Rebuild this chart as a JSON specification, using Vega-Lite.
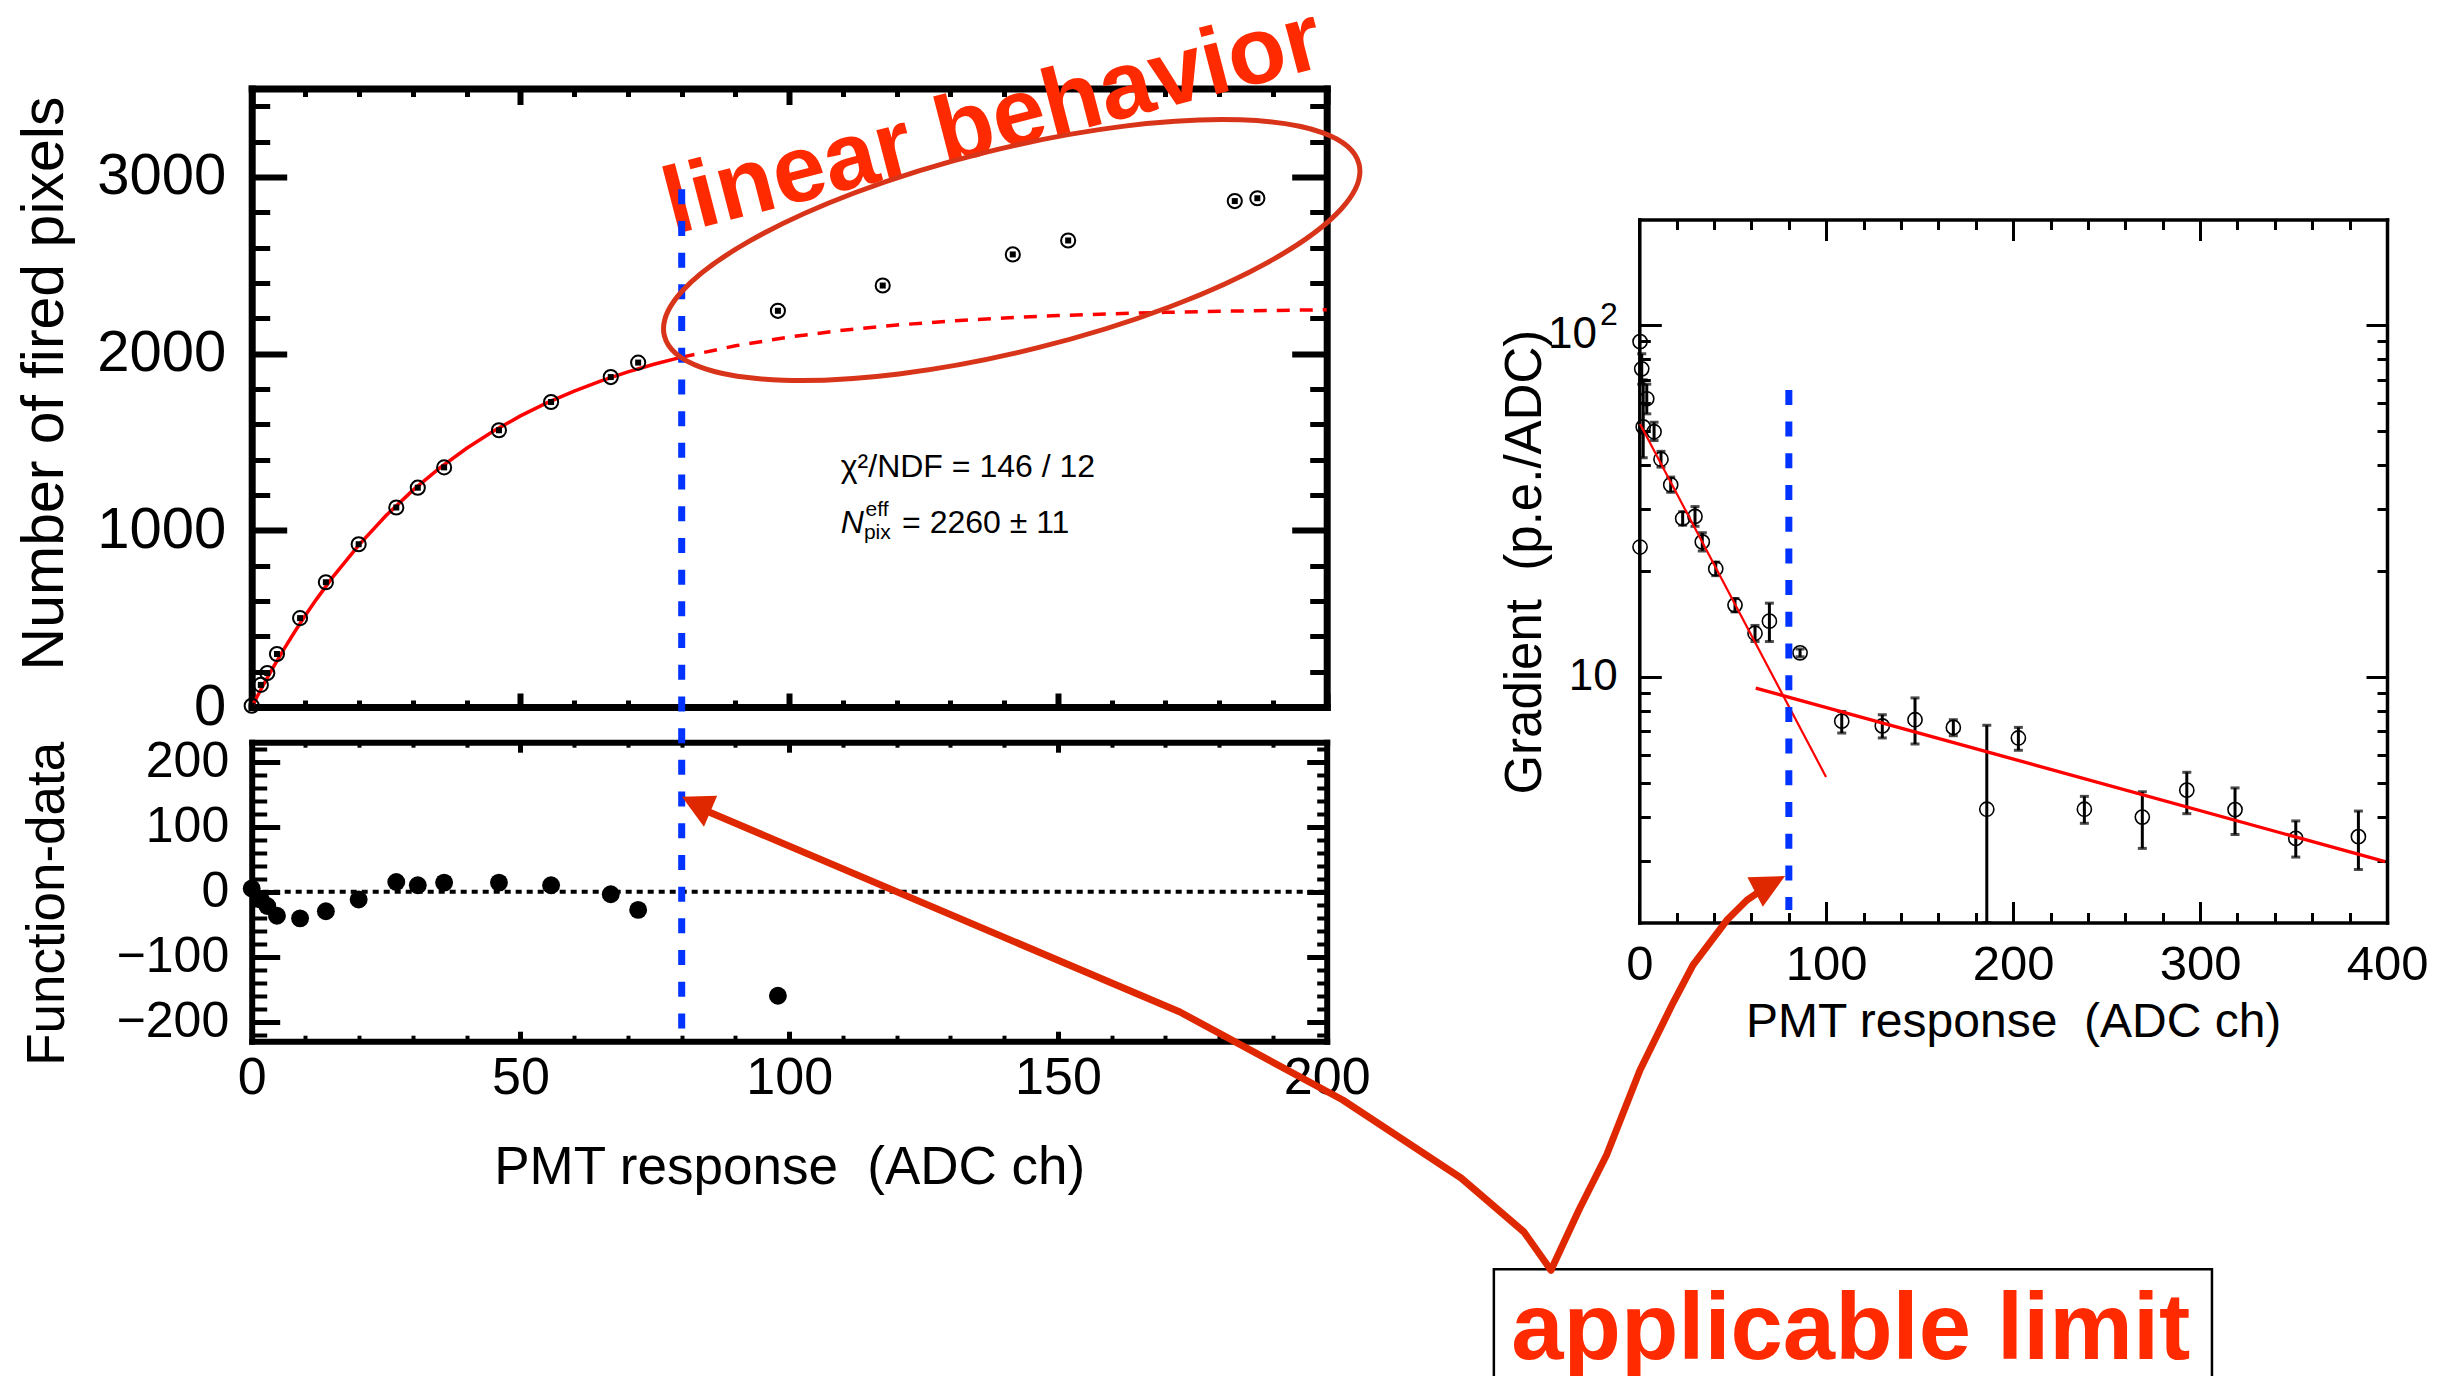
{
"$schema":"https://vega.github.io/schema/vega-lite/v6.json",
"width":2463,"height":1376,"autosize":"none","padding":0,"background":"white",
"config":{"view":{"stroke":null},"font":"Liberation Sans","axis":{"grid":false,"labelColor":"black","titleColor":"black","tickColor":"black","domainColor":"black","titleFontWeight":"normal","labelFlush":false,"labelOverlap":false,"labelFont":"Liberation Sans","titleFont":"Liberation Sans"}},
"datasets":{
"fired":[{"x":0,"y":7},{"x":1.7,"y":125},{"x":2.9,"y":192},{"x":4.7,"y":300},{"x":9.0,"y":503},{"x":13.8,"y":706},{"x":19.9,"y":921},{"x":26.9,"y":1129},{"x":30.9,"y":1241},{"x":35.8,"y":1356},{"x":46.0,"y":1566},{"x":55.7,"y":1726},{"x":66.8,"y":1867},{"x":71.9,"y":1949},{"x":97.9,"y":2242},{"x":117.4,"y":2385},{"x":141.6,"y":2561},{"x":151.9,"y":2640},{"x":182.9,"y":2863},{"x":187.1,"y":2879}],
"fit_in":[{"x":0,"y":0},{"x":1,"y":58.2},{"x":2,"y":114.9},{"x":3,"y":170.2},{"x":4,"y":224.0},{"x":6,"y":327.6},{"x":8,"y":425.9},{"x":10,"y":519.1},{"x":12,"y":607.7},{"x":15,"y":732.1},{"x":20,"y":919.1},{"x":25,"y":1083.2},{"x":30,"y":1227.1},{"x":35,"y":1353.5},{"x":40,"y":1464.4},{"x":45,"y":1561.7},{"x":50,"y":1647.2},{"x":55,"y":1722.1},{"x":60,"y":1787.9},{"x":65,"y":1845.7},{"x":70,"y":1896.4},{"x":75,"y":1940.9},{"x":80,"y":1979.9}],
"fit_out":[{"x":80,"y":1979.9},{"x":90,"y":2044.2},{"x":100,"y":2093.8},{"x":110,"y":2132.0},{"x":120,"y":2161.4},{"x":130,"y":2184.0},{"x":140,"y":2201.5},{"x":150,"y":2214.9},{"x":160,"y":2225.3},{"x":170,"y":2233.3},{"x":180,"y":2239.4},{"x":190,"y":2244.1},{"x":200,"y":2247.8}],
"resid":[{"x":0,"y":5},{"x":1.7,"y":-12},{"x":2.9,"y":-22},{"x":4.7,"y":-37},{"x":9.0,"y":-41},{"x":13.8,"y":-30},{"x":19.9,"y":-12},{"x":26.9,"y":15},{"x":30.9,"y":10},{"x":35.8,"y":14},{"x":46.0,"y":14},{"x":55.7,"y":10},{"x":66.8,"y":-4},{"x":71.9,"y":-28},{"x":97.9,"y":-160}],
"grad":[{"x":0.4,"y":89.9},{"x":1.3,"y":75.2,"lo":68,"hi":83},{"x":4.0,"y":61.8,"lo":56,"hi":68},{"x":2.1,"y":51.4,"lo":42,"hi":70},{"x":7.9,"y":49.8,"lo":47,"hi":53},{"x":11.6,"y":41.6,"lo":39.5,"hi":43.8},{"x":16.8,"y":35.2,"lo":33.5,"hi":37},{"x":23.2,"y":28.2,"lo":27,"hi":29.5},{"x":29.8,"y":28.6,"lo":26.8,"hi":30.5},{"x":33.7,"y":24.2,"lo":22.8,"hi":25.7},{"x":40.9,"y":20.3,"lo":19.4,"hi":21.2},{"x":51.2,"y":16.0,"lo":15.3,"hi":16.7},{"x":61.9,"y":13.3,"lo":12.6,"hi":14.0},{"x":69.6,"y":14.4,"lo":12.6,"hi":16.2},{"x":86.0,"y":11.7,"lo":11.4,"hi":12.0},{"x":0.4,"y":23.4},{"x":108.3,"y":7.48,"lo":6.92,"hi":7.97},{"x":130.0,"y":7.25,"lo":6.70,"hi":7.80},{"x":147.5,"y":7.55,"lo":6.44,"hi":8.71},{"x":168.0,"y":7.18,"lo":6.80,"hi":7.55},{"x":185.9,"y":4.20,"lo":2,"hi":7.28},{"x":202.8,"y":6.70,"lo":6.18,"hi":7.18},{"x":238.1,"y":4.20,"lo":3.83,"hi":4.57},{"x":269.1,"y":3.99,"lo":3.25,"hi":4.71},{"x":292.9,"y":4.76,"lo":4.08,"hi":5.35},{"x":318.7,"y":4.19,"lo":3.56,"hi":4.83},{"x":351.2,"y":3.47,"lo":3.07,"hi":3.89},{"x":384.7,"y":3.51,"lo":2.83,"hi":4.15}]
},
"resolve":{"scale":{"x":"independent","y":"independent"},"axis":{"x":"independent","y":"independent"}},
"layer":[
{"data":{"values":[{"x":100,"y":100}]},"mark":{"type":"point","opacity":0},"encoding":{
"x":{"field":"x","type":"quantitative","scale":{"domain":[0,200],"range":[251.7,1326.7],"nice":false,"zero":false},"axis":{"orient":"bottom","offset":-669,"values":[0,50,100,150,200],"labels":false,"ticks":true,"tickSize":-14,"tickWidth":6,"domain":true,"domainWidth":7,"domainCap":"square","title":null}},
"y":{"field":"y","type":"quantitative","scale":{"domain":[0,3500],"range":[707,88.5],"nice":false,"zero":false},"axis":{"orient":"left","offset":-251.7,"values":[0,1000,2000,3000],"labels":false,"ticks":true,"tickSize":-35,"tickWidth":6,"domain":true,"domainWidth":7,"domainCap":"square","title":null}}}},
{"data":{"values":[{"x":100,"y":100}]},"mark":{"type":"point","opacity":0},"encoding":{
"x":{"field":"x","type":"quantitative","scale":{"domain":[0,200],"range":[251.7,1326.7],"nice":false,"zero":false},"axis":{"orient":"bottom","offset":-669,"values":[10,20,30,40,60,70,80,90,110,120,130,140,160,170,180,190],"labels":false,"ticks":true,"tickSize":-7,"tickWidth":5,"domain":false,"title":null}},
"y":{"field":"y","type":"quantitative","scale":{"domain":[0,3500],"range":[707,88.5],"nice":false,"zero":false},"axis":{"orient":"left","offset":-251.7,"values":[200,400,600,800,1200,1400,1600,1800,2200,2400,2600,2800,3200,3400],"labels":false,"ticks":true,"tickSize":-18,"tickWidth":5,"domain":false,"title":null}}}},
{"data":{"values":[{"x":100,"y":100}]},"mark":{"type":"point","opacity":0},"encoding":{
"x":{"field":"x","type":"quantitative","scale":{"domain":[0,200],"range":[251.7,1326.7],"nice":false,"zero":false},"axis":{"orient":"top","offset":-88.5,"values":[0,50,100,150,200],"labels":false,"ticks":true,"tickSize":-16,"tickWidth":6,"domain":true,"domainWidth":7,"domainCap":"square","title":null}},
"y":{"field":"y","type":"quantitative","scale":{"domain":[0,3500],"range":[707,88.5],"nice":false,"zero":false},"axis":{"orient":"right","offset":-1136.3,"values":[0,1000,2000,3000],"labels":false,"ticks":true,"tickSize":-35,"tickWidth":6,"domain":true,"domainWidth":7,"domainCap":"square","title":null}}}},
{"data":{"values":[{"x":100,"y":100}]},"mark":{"type":"point","opacity":0},"encoding":{
"x":{"field":"x","type":"quantitative","scale":{"domain":[0,200],"range":[251.7,1326.7],"nice":false,"zero":false},"axis":{"orient":"top","offset":-88.5,"values":[10,20,30,40,60,70,80,90,110,120,130,140,160,170,180,190],"labels":false,"ticks":true,"tickSize":-8,"tickWidth":5,"domain":false,"title":null}},
"y":{"field":"y","type":"quantitative","scale":{"domain":[0,3500],"range":[707,88.5],"nice":false,"zero":false},"axis":{"orient":"right","offset":-1136.3,"values":[200,400,600,800,1200,1400,1600,1800,2200,2400,2600,2800,3200,3400],"labels":false,"ticks":true,"tickSize":-17,"tickWidth":5,"domain":false,"title":null}}}},
{"data":{"values":[{"x":100,"y":100}]},"mark":{"type":"point","opacity":0},"encoding":{
"x":{"field":"x","type":"quantitative","scale":{"domain":[0,200],"range":[251.7,1326.7],"nice":false,"zero":false},"axis":null},
"y":{"field":"y","type":"quantitative","scale":{"domain":[0,3500],"range":[707,88.5],"nice":false,"zero":false},"axis":{"orient":"left","offset":-251.7,"values":[0,1000,2000,3000],"ticks":false,"domain":false,"labels":true,"format":"d","labelFontSize":58,"labelPadding":26,"title":"Number of fired pixels","titleFontSize":59,"titleX":-189.7,"titleY":383,"titleAngle":270,"titleAlign":"center","titleBaseline":"alphabetic"}}}},

{"data":{"values":[{"x":100,"y":0}]},"mark":{"type":"point","opacity":0},"encoding":{
"x":{"field":"x","type":"quantitative","scale":{"domain":[0,200],"range":[251.7,1326.7],"nice":false,"zero":false},"axis":{"orient":"bottom","offset":-334.8,"values":[0,50,100,150,200],"labels":false,"ticks":true,"tickSize":-10,"tickWidth":5,"domain":true,"domainWidth":6,"domainCap":"square","title":null}},
"y":{"field":"y","type":"quantitative","scale":{"domain":[-230,230],"range":[1041.2,742.2],"nice":false,"zero":false},"axis":{"orient":"left","offset":-251.7,"values":[-200,-100,0,100,200],"labels":false,"ticks":true,"tickSize":-28,"tickWidth":5,"domain":true,"domainWidth":6,"domainCap":"square","title":null}}}},
{"data":{"values":[{"x":100,"y":0}]},"mark":{"type":"point","opacity":0},"encoding":{
"x":{"field":"x","type":"quantitative","scale":{"domain":[0,200],"range":[251.7,1326.7],"nice":false,"zero":false},"axis":{"orient":"bottom","offset":-334.8,"values":[10,20,30,40,60,70,80,90,110,120,130,140,160,170,180,190],"labels":false,"ticks":true,"tickSize":-6,"tickWidth":4,"domain":false,"title":null}},
"y":{"field":"y","type":"quantitative","scale":{"domain":[-230,230],"range":[1041.2,742.2],"nice":false,"zero":false},"axis":{"orient":"left","offset":-251.7,"values":[-220,-180,-160,-140,-120,-80,-60,-40,-20,20,40,60,80,120,140,160,180,220],"labels":false,"ticks":true,"tickSize":-15,"tickWidth":4,"domain":false,"title":null}}}},
{"data":{"values":[{"x":100,"y":0}]},"mark":{"type":"point","opacity":0},"encoding":{
"x":{"field":"x","type":"quantitative","scale":{"domain":[0,200],"range":[251.7,1326.7],"nice":false,"zero":false},"axis":{"orient":"top","offset":-742.2,"values":[0,50,100,150,200],"labels":false,"ticks":true,"tickSize":-10,"tickWidth":5,"domain":true,"domainWidth":6,"domainCap":"square","title":null}},
"y":{"field":"y","type":"quantitative","scale":{"domain":[-230,230],"range":[1041.2,742.2],"nice":false,"zero":false},"axis":{"orient":"right","offset":-1136.3,"values":[-200,-100,0,100,200],"labels":false,"ticks":true,"tickSize":-20,"tickWidth":5,"domain":true,"domainWidth":6,"domainCap":"square","title":null}}}},
{"data":{"values":[{"x":100,"y":0}]},"mark":{"type":"point","opacity":0},"encoding":{
"x":{"field":"x","type":"quantitative","scale":{"domain":[0,200],"range":[251.7,1326.7],"nice":false,"zero":false},"axis":{"orient":"top","offset":-742.2,"values":[10,20,30,40,60,70,80,90,110,120,130,140,160,170,180,190],"labels":false,"ticks":true,"tickSize":-5,"tickWidth":4,"domain":false,"title":null}},
"y":{"field":"y","type":"quantitative","scale":{"domain":[-230,230],"range":[1041.2,742.2],"nice":false,"zero":false},"axis":{"orient":"right","offset":-1136.3,"values":[-220,-180,-160,-140,-120,-80,-60,-40,-20,20,40,60,80,120,140,160,180,220],"labels":false,"ticks":true,"tickSize":-10,"tickWidth":4,"domain":false,"title":null}}}},
{"data":{"values":[{"x":100,"y":0}]},"mark":{"type":"point","opacity":0},"encoding":{
"x":{"field":"x","type":"quantitative","scale":{"domain":[0,200],"range":[251.7,1326.7],"nice":false,"zero":false},"axis":{"orient":"bottom","offset":-334.8,"values":[0,50,100,150,200],"ticks":false,"domain":false,"labels":true,"format":"d","labelFontSize":52,"labelPadding":11,"title":"PMT response\u00a0 (ADC ch)","titleFontSize":53,"titleX":789.2,"titleY":141.8,"titleAngle":0,"titleAlign":"center","titleBaseline":"alphabetic"}},
"y":{"field":"y","type":"quantitative","scale":{"domain":[-230,230],"range":[1041.2,742.2],"nice":false,"zero":false},"axis":{"orient":"left","offset":-251.7,"values":[-200,-100,0,100,200],"ticks":false,"domain":false,"labels":true,"format":"d","labelFontSize":50,"labelPadding":23,"title":"Function-data","titleFontSize":53,"titleX":-188.2,"titleY":903.3,"titleAngle":270,"titleAlign":"center","titleBaseline":"alphabetic"}}}},

{"data":{"values":[{"x":100,"y":10}]},"mark":{"type":"point","opacity":0},"encoding":{
"x":{"field":"x","type":"quantitative","scale":{"domain":[0,400],"range":[1639.3,2387],"nice":false,"zero":false},"axis":{"orient":"bottom","offset":-453.5,"values":[0,100,200,300,400],"labels":false,"ticks":true,"tickSize":-21,"tickWidth":3,"domain":true,"domainWidth":3.5,"domainCap":"square","title":null}},
"y":{"field":"y","type":"quantitative","scale":{"type":"log","domain":[2,200],"range":[922.5,219.5],"nice":false},"axis":{"orient":"left","offset":-1639.3,"values":[10,100],"labels":false,"ticks":true,"tickSize":-22,"tickWidth":3,"domain":true,"domainWidth":3.5,"domainCap":"square","title":null}}}},
{"data":{"values":[{"x":100,"y":10}]},"mark":{"type":"point","opacity":0},"encoding":{
"x":{"field":"x","type":"quantitative","scale":{"domain":[0,400],"range":[1639.3,2387],"nice":false,"zero":false},"axis":{"orient":"bottom","offset":-453.5,"values":[20,40,60,80,120,140,160,180,220,240,260,280,320,340,360,380],"labels":false,"ticks":true,"tickSize":-10,"tickWidth":3,"domain":false,"title":null}},
"y":{"field":"y","type":"quantitative","scale":{"type":"log","domain":[2,200],"range":[922.5,219.5],"nice":false},"axis":{"orient":"left","offset":-1639.3,"values":[3,4,5,6,7,8,9,20,30,40,50,60,70,80,90],"labels":false,"ticks":true,"tickSize":-11,"tickWidth":3,"domain":false,"title":null}}}},
{"data":{"values":[{"x":100,"y":10}]},"mark":{"type":"point","opacity":0},"encoding":{
"x":{"field":"x","type":"quantitative","scale":{"domain":[0,400],"range":[1639.3,2387],"nice":false,"zero":false},"axis":{"orient":"top","offset":-219.5,"values":[0,100,200,300,400],"labels":false,"ticks":true,"tickSize":-21,"tickWidth":3,"domain":true,"domainWidth":3.5,"domainCap":"square","title":null}},
"y":{"field":"y","type":"quantitative","scale":{"type":"log","domain":[2,200],"range":[922.5,219.5],"nice":false},"axis":{"orient":"right","offset":-76,"values":[10,100],"labels":false,"ticks":true,"tickSize":-21,"tickWidth":3,"domain":true,"domainWidth":3.5,"domainCap":"square","title":null}}}},
{"data":{"values":[{"x":100,"y":10}]},"mark":{"type":"point","opacity":0},"encoding":{
"x":{"field":"x","type":"quantitative","scale":{"domain":[0,400],"range":[1639.3,2387],"nice":false,"zero":false},"axis":{"orient":"top","offset":-219.5,"values":[20,40,60,80,120,140,160,180,220,240,260,280,320,340,360,380],"labels":false,"ticks":true,"tickSize":-10,"tickWidth":3,"domain":false,"title":null}},
"y":{"field":"y","type":"quantitative","scale":{"type":"log","domain":[2,200],"range":[922.5,219.5],"nice":false},"axis":{"orient":"right","offset":-76,"values":[3,4,5,6,7,8,9,20,30,40,50,60,70,80,90],"labels":false,"ticks":true,"tickSize":-10,"tickWidth":3,"domain":false,"title":null}}}},
{"data":{"values":[{"x":100,"y":10}]},"mark":{"type":"point","opacity":0},"encoding":{
"x":{"field":"x","type":"quantitative","scale":{"domain":[0,400],"range":[1639.3,2387],"nice":false,"zero":false},"axis":{"orient":"bottom","offset":-453.5,"values":[0,100,200,300,400],"ticks":false,"domain":false,"labels":true,"format":"d","labelFontSize":49,"labelPadding":18,"title":"PMT response\u00a0 (ADC ch)","titleFontSize":48,"titleX":2013.2,"titleY":113.5,"titleAngle":0,"titleAlign":"center","titleBaseline":"alphabetic"}},
"y":{"field":"y","type":"quantitative","scale":{"type":"log","domain":[2,200],"range":[922.5,219.5],"nice":false},"axis":{"orient":"left","offset":-1639.3,"values":[10],"ticks":false,"domain":false,"labels":true,"format":"d","labelFontSize":44,"labelPadding":22,"title":"Gradient\u00a0 (p.e./ADC)","titleFontSize":51,"titleX":-99.3,"titleY":561.7,"titleAngle":270,"titleAlign":"center","titleBaseline":"alphabetic"}}}},

{"data":{"name":"fit_in"},"mark":{"type":"line","color":"#FF0000","strokeWidth":3.5},"encoding":{
"x":{"field":"x","type":"quantitative","scale":{"domain":[0,200],"range":[251.7,1326.7],"nice":false,"zero":false},"axis":null},
"y":{"field":"y","type":"quantitative","scale":{"domain":[0,3500],"range":[707,88.5],"nice":false,"zero":false},"axis":null}}},
{"data":{"name":"fit_out"},"mark":{"type":"line","color":"#FF0000","strokeWidth":3.5,"strokeDash":[13,10]},"encoding":{
"x":{"field":"x","type":"quantitative","scale":{"domain":[0,200],"range":[251.7,1326.7],"nice":false,"zero":false},"axis":null},
"y":{"field":"y","type":"quantitative","scale":{"domain":[0,3500],"range":[707,88.5],"nice":false,"zero":false},"axis":null}}},
{"data":{"name":"fired"},"mark":{"type":"point","shape":"circle","filled":false,"color":"black","strokeWidth":2,"size":200,"opacity":1},"encoding":{
"x":{"field":"x","type":"quantitative","scale":{"domain":[0,200],"range":[251.7,1326.7],"nice":false,"zero":false},"axis":null},
"y":{"field":"y","type":"quantitative","scale":{"domain":[0,3500],"range":[707,88.5],"nice":false,"zero":false},"axis":null}}},
{"data":{"name":"fired"},"mark":{"type":"point","shape":"square","filled":true,"color":"black","size":36,"opacity":1},"encoding":{
"x":{"field":"x","type":"quantitative","scale":{"domain":[0,200],"range":[251.7,1326.7],"nice":false,"zero":false},"axis":null},
"y":{"field":"y","type":"quantitative","scale":{"domain":[0,3500],"range":[707,88.5],"nice":false,"zero":false},"axis":null}}},
{"data":{"values":[{"x":109.6,"y":1299,"label":"χ²/NDF = 146 / 12"},{"x":121.0,"y":987,"label":"= 2260 ± 11"}]},"mark":{"type":"text","align":"left","baseline":"alphabetic","fontSize":32,"color":"black"},"encoding":{
"x":{"field":"x","type":"quantitative","scale":{"domain":[0,200],"range":[251.7,1326.7],"nice":false,"zero":false},"axis":null},
"y":{"field":"y","type":"quantitative","scale":{"domain":[0,3500],"range":[707,88.5],"nice":false,"zero":false},"axis":null},
"text":{"field":"label"}}},
{"data":{"values":[{"x":109.6,"y":987,"label":"N"}]},"mark":{"type":"text","align":"left","baseline":"alphabetic","fontSize":32,"fontStyle":"italic","color":"black"},"encoding":{
"x":{"field":"x","type":"quantitative","scale":{"domain":[0,200],"range":[251.7,1326.7],"nice":false,"zero":false},"axis":null},
"y":{"field":"y","type":"quantitative","scale":{"domain":[0,3500],"range":[707,88.5],"nice":false,"zero":false},"axis":null},
"text":{"field":"label"}}},
{"data":{"values":[{"x":114.2,"y":1081,"label":"eff"},{"x":113.9,"y":950,"label":"pix"}]},"mark":{"type":"text","align":"left","baseline":"alphabetic","fontSize":21,"color":"black"},"encoding":{
"x":{"field":"x","type":"quantitative","scale":{"domain":[0,200],"range":[251.7,1326.7],"nice":false,"zero":false},"axis":null},
"y":{"field":"y","type":"quantitative","scale":{"domain":[0,3500],"range":[707,88.5],"nice":false,"zero":false},"axis":null},
"text":{"field":"label"}}},

{"data":{"values":[{"x":0,"x2":200,"y":0}]},"mark":{"type":"rule","color":"black","strokeWidth":4,"strokeDash":[6,5]},"encoding":{
"x":{"field":"x","type":"quantitative","scale":{"domain":[0,200],"range":[251.7,1326.7],"nice":false,"zero":false},"axis":null},
"x2":{"field":"x2"},
"y":{"field":"y","type":"quantitative","scale":{"domain":[-230,230],"range":[1041.2,742.2],"nice":false,"zero":false},"axis":null}}},
{"data":{"name":"resid"},"mark":{"type":"point","shape":"circle","filled":true,"color":"black","size":320,"opacity":1},"encoding":{
"x":{"field":"x","type":"quantitative","scale":{"domain":[0,200],"range":[251.7,1326.7],"nice":false,"zero":false},"axis":null},
"y":{"field":"y","type":"quantitative","scale":{"domain":[-230,230],"range":[1041.2,742.2],"nice":false,"zero":false},"axis":null}}},

{"data":{"name":"grad"},"transform":[{"filter":"isValid(datum.lo)"}],"mark":{"type":"rule","color":"black","strokeWidth":3},"encoding":{
"x":{"field":"x","type":"quantitative","scale":{"domain":[0,400],"range":[1639.3,2387],"nice":false,"zero":false},"axis":null},
"y":{"field":"lo","type":"quantitative","scale":{"type":"log","domain":[2,200],"range":[922.5,219.5],"nice":false},"axis":null},
"y2":{"field":"hi"}}},
{"data":{"name":"grad"},"transform":[{"filter":"isValid(datum.lo)"}],"mark":{"type":"tick","orient":"horizontal","color":"black","size":9,"thickness":3},"encoding":{
"x":{"field":"x","type":"quantitative","scale":{"domain":[0,400],"range":[1639.3,2387],"nice":false,"zero":false},"axis":null},
"y":{"field":"lo","type":"quantitative","scale":{"type":"log","domain":[2,200],"range":[922.5,219.5],"nice":false},"axis":null}}},
{"data":{"name":"grad"},"transform":[{"filter":"isValid(datum.hi)"}],"mark":{"type":"tick","orient":"horizontal","color":"black","size":9,"thickness":3},"encoding":{
"x":{"field":"x","type":"quantitative","scale":{"domain":[0,400],"range":[1639.3,2387],"nice":false,"zero":false},"axis":null},
"y":{"field":"hi","type":"quantitative","scale":{"type":"log","domain":[2,200],"range":[922.5,219.5],"nice":false},"axis":null}}},
{"data":{"name":"grad"},"mark":{"type":"point","shape":"circle","filled":false,"color":"black","strokeWidth":1.6,"size":200,"opacity":1},"encoding":{
"x":{"field":"x","type":"quantitative","scale":{"domain":[0,400],"range":[1639.3,2387],"nice":false,"zero":false},"axis":null},
"y":{"field":"y","type":"quantitative","scale":{"type":"log","domain":[2,200],"range":[922.5,219.5],"nice":false},"axis":null}}},
{"data":{"values":[{"x":0.4,"y":52.4},{"x":99.9,"y":5.19}]},"mark":{"type":"line","color":"#FF0000","strokeWidth":2.2},"encoding":{
"x":{"field":"x","type":"quantitative","scale":{"domain":[0,400],"range":[1639.3,2387],"nice":false,"zero":false},"axis":null},
"y":{"field":"y","type":"quantitative","scale":{"type":"log","domain":[2,200],"range":[922.5,219.5],"nice":false},"axis":null}}},
{"data":{"values":[{"x":62.3,"y":9.29},{"x":399.0,"y":2.98}]},"mark":{"type":"line","color":"#FF0000","strokeWidth":3.3},"encoding":{
"x":{"field":"x","type":"quantitative","scale":{"domain":[0,400],"range":[1639.3,2387],"nice":false,"zero":false},"axis":null},
"y":{"field":"y","type":"quantitative","scale":{"type":"log","domain":[2,200],"range":[922.5,219.5],"nice":false},"axis":null}}},
{"data":{"values":[{"x":80,"y":65.5,"y2":2.17}]},"mark":{"type":"rule","color":"#0033FF","strokeWidth":7,"strokeDash":[15,16.7]},"encoding":{
"x":{"field":"x","type":"quantitative","scale":{"domain":[0,400],"range":[1639.3,2387],"nice":false,"zero":false},"axis":null},
"y":{"field":"y","type":"quantitative","scale":{"type":"log","domain":[2,200],"range":[922.5,219.5],"nice":false},"axis":null},
"y2":{"field":"y2"}}},
{"data":{"values":[{"x":-22.6,"y":86.0,"label":"10"}]},"mark":{"type":"text","align":"right","baseline":"alphabetic","fontSize":44,"color":"black"},"encoding":{
"x":{"field":"x","type":"quantitative","scale":{"domain":[0,400],"range":[1639.3,2387],"nice":false,"zero":false},"axis":null},
"y":{"field":"y","type":"quantitative","scale":{"type":"log","domain":[2,200],"range":[922.5,219.5],"nice":false},"axis":null},
"text":{"field":"label"}}},
{"data":{"values":[{"x":-21.0,"y":100.2,"label":"2"}]},"mark":{"type":"text","align":"left","baseline":"alphabetic","fontSize":32,"color":"black"},"encoding":{
"x":{"field":"x","type":"quantitative","scale":{"domain":[0,400],"range":[1639.3,2387],"nice":false,"zero":false},"axis":null},
"y":{"field":"y","type":"quantitative","scale":{"type":"log","domain":[2,200],"range":[922.5,219.5],"nice":false},"axis":null},
"text":{"field":"label"}}},

{"data":{"values":[{"x":78.4,"y":2672,"label":"linear behavior"}]},"mark":{"type":"text","align":"left","baseline":"alphabetic","fontSize":95,"fontWeight":"bold","angle":-14.5,"color":"#FF2A00"},"encoding":{
"x":{"field":"x","type":"quantitative","scale":{"domain":[0,200],"range":[251.7,1326.7],"nice":false,"zero":false},"axis":null},
"y":{"field":"y","type":"quantitative","scale":{"domain":[0,3500],"range":[707,88.5],"nice":false,"zero":false},"axis":null},
"text":{"field":"label"}}},
{"data":{"values":[{"x":80,"y":2930,"y2":-1862}]},"mark":{"type":"rule","color":"#0033FF","strokeWidth":7,"strokeDash":[15,16.7]},"encoding":{
"x":{"field":"x","type":"quantitative","scale":{"domain":[0,200],"range":[251.7,1326.7],"nice":false,"zero":false},"axis":null},
"y":{"field":"y","type":"quantitative","scale":{"domain":[0,3500],"range":[707,88.5],"nice":false,"zero":false},"axis":null},
"y2":{"field":"y2"}}},
{"data":{"values":[{"x":141.4,"y":2586}]},"mark":{"type":"point","shape":"M1,0C1,0.1561 0.5523,0.2826 0,0.2826C-0.5523,0.2826 -1,0.1561 -1,0C-1,-0.1561 -0.5523,-0.2826 0,-0.2826C0.5523,-0.2826 1,-0.1561 1,0Z","filled":false,"color":"#D8341A","strokeWidth":5,"size":512083,"angle":-13.9,"opacity":1},"encoding":{
"x":{"field":"x","type":"quantitative","scale":{"domain":[0,200],"range":[251.7,1326.7],"nice":false,"zero":false},"axis":null},
"y":{"field":"y","type":"quantitative","scale":{"domain":[0,3500],"range":[707,88.5],"nice":false,"zero":false},"axis":null}}},

{"data":{"values":[{"x":231.1,"x2":364.7,"y":-580.9,"y2":-800}]},"mark":{"type":"rect","filled":false,"stroke":"black","strokeWidth":2.5},"encoding":{
"x":{"field":"x","type":"quantitative","scale":{"domain":[0,200],"range":[251.7,1326.7],"nice":false,"zero":false},"axis":null},
"x2":{"field":"x2"},
"y":{"field":"y","type":"quantitative","scale":{"domain":[-230,230],"range":[1041.2,742.2],"nice":false,"zero":false},"axis":null},
"y2":{"field":"y2"}}},
{"data":{"values":[{"x":297.5,"y":-718.9,"label":"applicable limit"}]},"mark":{"type":"text","align":"center","baseline":"alphabetic","fontSize":94,"fontWeight":"bold","color":"#FF2A00"},"encoding":{
"x":{"field":"x","type":"quantitative","scale":{"domain":[0,200],"range":[251.7,1326.7],"nice":false,"zero":false},"axis":null},
"y":{"field":"y","type":"quantitative","scale":{"domain":[-230,230],"range":[1041.2,742.2],"nice":false,"zero":false},"axis":null},
"text":{"field":"label"}}},
{"data":{"values":[{"x":241.7,"y":-582.0},{"x":236.7,"y":-523.5},{"x":225.0,"y":-440.5},{"x":203.0,"y":-320.5},{"x":172.7,"y":-185.1},{"x":84.2,"y":125.7}]},"mark":{"type":"line","color":"#E02800","strokeWidth":7,"strokeCap":"round","strokeJoin":"round"},"encoding":{
"x":{"field":"x","type":"quantitative","scale":{"domain":[0,200],"range":[251.7,1326.7],"nice":false,"zero":false},"axis":null},
"y":{"field":"y","type":"quantitative","scale":{"domain":[-230,230],"range":[1041.2,742.2],"nice":false,"zero":false},"axis":null}}},
{"data":{"values":[{"x":83.6,"y":131.2}]},"mark":{"type":"point","shape":"M-0.955,-0.485L0.805,-0.535L0.145,1.015Z","filled":true,"color":"#E02800","size":1600,"opacity":1,"strokeWidth":0},"encoding":{
"x":{"field":"x","type":"quantitative","scale":{"domain":[0,200],"range":[251.7,1326.7],"nice":false,"zero":false},"axis":null},
"y":{"field":"y","type":"quantitative","scale":{"domain":[-230,230],"range":[1041.2,742.2],"nice":false,"zero":false},"axis":null}}},
{"data":{"values":[{"x":-47.2,"y":0.2053},{"x":-32.3,"y":0.3041},{"x":-17.5,"y":0.4361},{"x":0.4,"y":0.7611},{"x":18.0,"y":1.180},{"x":28.7,"y":1.513},{"x":46.9,"y":2.032},{"x":57.6,"y":2.316},{"x":64.6,"y":2.457}]},"mark":{"type":"line","color":"#E02800","strokeWidth":7,"strokeCap":"round","strokeJoin":"round"},"encoding":{
"x":{"field":"x","type":"quantitative","scale":{"domain":[0,400],"range":[1639.3,2387],"nice":false,"zero":false},"axis":null},
"y":{"field":"y","type":"quantitative","scale":{"type":"log","domain":[2,200],"range":[922.5,219.5],"nice":false},"axis":null}}},
{"data":{"values":[{"x":67.3,"y":2.528}]},"mark":{"type":"point","shape":"M1,-0.535L-0.885,-0.47L-0.115,1Z","filled":true,"color":"#E02800","size":1600,"opacity":1,"strokeWidth":0},"encoding":{
"x":{"field":"x","type":"quantitative","scale":{"domain":[0,400],"range":[1639.3,2387],"nice":false,"zero":false},"axis":null},
"y":{"field":"y","type":"quantitative","scale":{"type":"log","domain":[2,200],"range":[922.5,219.5],"nice":false},"axis":null}}}
]
}
